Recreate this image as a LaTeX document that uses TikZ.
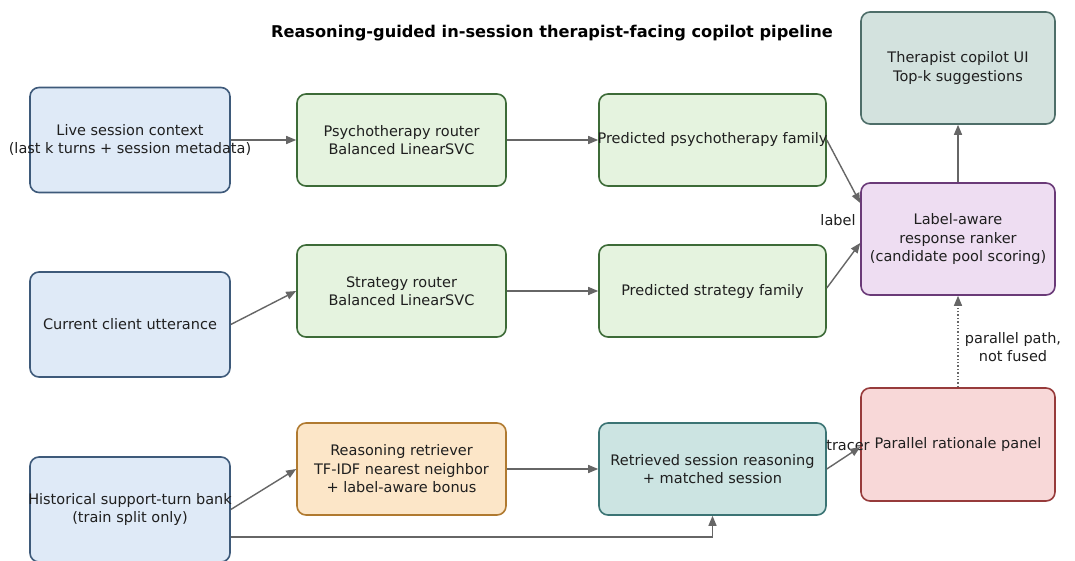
\documentclass[tikz,border=0pt]{standalone}
\usepackage{fontspec}
\setmainfont{DejaVu Sans}
\usetikzlibrary{arrows.meta}
\definecolor{bluefill}{HTML}{DFEAF7}\definecolor{bluedraw}{HTML}{3E5A7A}
\definecolor{greenfill}{HTML}{E5F3DF}\definecolor{greendraw}{HTML}{3D6B38}
\definecolor{uifill}{HTML}{D3E2DE}\definecolor{uidraw}{HTML}{4E6E69}
\definecolor{rankfill}{HTML}{EEDDF2}\definecolor{rankdraw}{HTML}{6A3A78}
\definecolor{orangefill}{HTML}{FCE6C8}\definecolor{orangedraw}{HTML}{B07A30}
\definecolor{tealfill}{HTML}{CCE4E2}\definecolor{tealdraw}{HTML}{3B7474}
\definecolor{redfill}{HTML}{F8D8D8}\definecolor{reddraw}{HTML}{973B3B}
\definecolor{arrowgray}{HTML}{666666}
\begin{document}
\begin{tikzpicture}[x=1pt,y=-1pt,
  box/.style={draw, rounded corners=9pt, line width=1.6pt, inner sep=0pt},
  txt/.style={font=\fontsize{14.5}{18.5}\selectfont, align=center, text=black!88},
  bluebox/.style={box, fill=bluefill, draw=bluedraw, minimum width=200pt, minimum height=105pt},
  greenbox/.style={box, fill=greenfill, draw=greendraw},
  arr/.style={draw=arrowgray, line width=1.4pt, -{Triangle[length=10pt,width=8pt]}},
  lbl/.style={font=\fontsize{14.5}{18.5}\selectfont, align=center, text=black!88}
]
\useasboundingbox (0,0) rectangle (1075,561);
\fill[white] (0,0) rectangle (1075,561);

\node[font=\bfseries\fontsize{16.2}{19}\selectfont] (title) at (552,33) {Reasoning-guided in-session therapist-facing copilot pipeline};

% left column
\node[bluebox, label={[txt]center:Live session context\\(last k turns + session metadata)}] (live) at (130,140) {};
\node[bluebox, label={[txt]center:Current client utterance}] (client) at (130,324.5) {};
\node[bluebox, label={[txt]center:Historical support-turn bank\\(train split only)}] (hist) at (130,509.5) {};

% routers
\node[greenbox, minimum width=209pt, minimum height=92pt, label={[txt]center:Psychotherapy router\\Balanced LinearSVC}] (prouter) at (401.5,140) {};
\node[greenbox, minimum width=209pt, minimum height=92pt, label={[txt]center:Strategy router\\Balanced LinearSVC}] (srouter) at (401.5,291) {};
\node[box, fill=orangefill, draw=orangedraw, minimum width=209pt, minimum height=92pt, label={[txt]center:Reasoning retriever\\TF-IDF nearest neighbor\\+ label-aware bonus}] (retr) at (401.5,469) {};

% middle outputs
\node[greenbox, minimum width=227pt, minimum height=92pt, label={[txt]center:Predicted psychotherapy family}] (pfam) at (712.5,140) {};
\node[greenbox, minimum width=227pt, minimum height=92pt, label={[txt]center:Predicted strategy family}] (sfam) at (712.5,291) {};
\node[box, fill=tealfill, draw=tealdraw, minimum width=227pt, minimum height=92pt, label={[txt]center:Retrieved session reasoning\\+ matched session}] (rsess) at (712.5,469) {};

% right column
\node[box, fill=uifill, draw=uidraw, minimum width=194pt, minimum height=112pt, label={[txt]center:Therapist copilot UI\\Top-k suggestions}] (ui) at (958,68) {};
\node[box, fill=rankfill, draw=rankdraw, minimum width=194pt, minimum height=112pt, label={[txt]center:Label-aware\\response ranker\\(candidate pool scoring)}] (rank) at (958,239) {};
\node[box, fill=redfill, draw=reddraw, minimum width=194pt, minimum height=113pt, label={[txt]center:Parallel rationale panel}] (panel) at (958,444.5) {};

% edge labels
\node[lbl] (labeltxt) at (838,220) {label};
\node[lbl] (tracetxt) at (848,446) {tracer};
\node[lbl] (paralleltxt) at (1013,347) {parallel path,\\not fused};

% connectors
\draw[arr] (live.east) -- (prouter.west);
\draw[arr] (prouter.east) -- (pfam.west);
\draw[arr] (client.east) -- (srouter.west);
\draw[arr] (srouter.east) -- (sfam.west);
\draw[arr] (hist.east) -- (retr.west);
\draw[arr] (retr.east) -- (rsess.west);
\draw[arr] ([yshift=-27.5pt]hist.east) -| (rsess.south);
\draw[arr] (pfam.east) -- ([yshift=36pt]rank.west);
\draw[arr] ([yshift=3pt]sfam.east) -- ([yshift=-4pt]rank.west);
\draw[arr] (rank.north) -- (ui.south);
\draw[arr] (rsess.east) -- ([yshift=-2.5pt]panel.west);
\draw[arr, dotted] (panel.north) -- (rank.south);
\end{tikzpicture}
\end{document}
